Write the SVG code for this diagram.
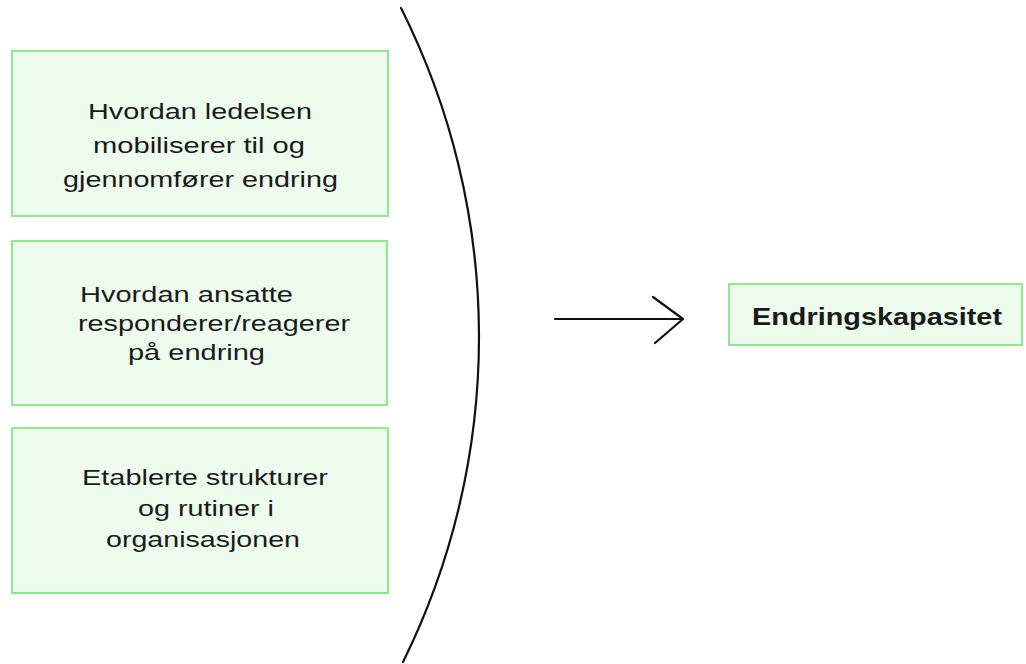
<svg xmlns="http://www.w3.org/2000/svg" width="1026" height="664" viewBox="0 0 1026 664">
<style>
.box{fill:#eefcee;stroke:#8ee88e;stroke-width:2}
.t{font-family:"Liberation Sans",Arial,sans-serif;font-size:22px;fill:#1a1a1a}
.b{font-family:"Liberation Sans",Arial,sans-serif;font-size:24px;font-weight:bold;fill:#1a1a1a}
.ln{fill:none;stroke:#111;stroke-width:2.2;stroke-linecap:round;stroke-linejoin:round}
</style>
<rect width="1026" height="664" fill="#ffffff"/>
<g id="node1">
<rect class="box" x="12" y="51" width="376" height="165"/>
<text class="t" x="88" y="119" textLength="224" lengthAdjust="spacingAndGlyphs">Hvordan ledelsen</text>
<text class="t" x="93" y="153" textLength="212" lengthAdjust="spacingAndGlyphs">mobiliserer til og</text>
<text class="t" x="63" y="187" textLength="275" lengthAdjust="spacingAndGlyphs">gjennomfører endring</text>
</g>
<g id="node2">
<rect class="box" x="12" y="241" width="375" height="164"/>
<text class="t" x="80" y="302" textLength="213" lengthAdjust="spacingAndGlyphs">Hvordan ansatte</text>
<text class="t" x="78" y="331" textLength="272" lengthAdjust="spacingAndGlyphs">responderer/reagerer</text>
<text class="t" x="128" y="360" textLength="137" lengthAdjust="spacingAndGlyphs">på endring</text>
</g>
<g id="node3">
<rect class="box" x="12" y="428" width="376" height="165"/>
<text class="t" x="82" y="485" textLength="246" lengthAdjust="spacingAndGlyphs">Etablerte strukturer</text>
<text class="t" x="138" y="516" textLength="136" lengthAdjust="spacingAndGlyphs">og rutiner i</text>
<text class="t" x="106" y="547" textLength="194" lengthAdjust="spacingAndGlyphs">organisasjonen</text>
</g>
<g id="node4">
<rect class="box" x="729" y="284" width="293" height="61"/>
<text class="b" x="752" y="325" textLength="250" lengthAdjust="spacingAndGlyphs">Endringskapasitet</text>
</g>
<g id="connectors">
<path class="ln" d="M401 8 A733 733 0 0 1 403 662"/>
<path class="ln" d="M555 319 L683 319 M653 297 L683 319 L655 343"/>
</g>
</svg>
